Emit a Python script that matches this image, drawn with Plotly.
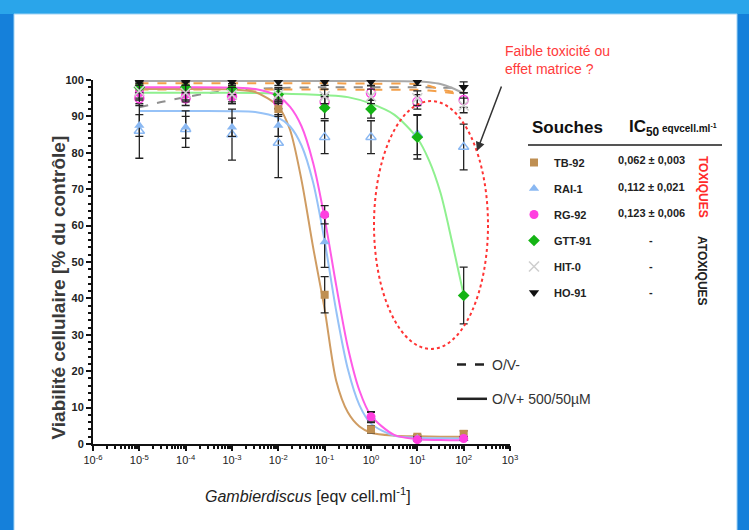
import plotly.graph_objects as go

W, H = 749, 530

# ---------------- data ----------------
conc = [1e-5, 1e-4, 1e-3, 1e-2, 1e-1, 1e0, 1e1, 1e2]
strains = ["TB-92", "RAI-1", "RG-92", "GTT-91", "HIT-0", "HO-91"]
ic50_text = ["0,062 ± 0,003", "0,112 ± 0,021", "0,123 ± 0,006", "-", "-", "-"]
x_tick_vals = [1e-6, 1e-5, 1e-4, 1e-3, 1e-2, 1e-1, 1e0, 1e1, 1e2, 1e3]
x_tick_text = ["10<sup>-6</sup>", "10<sup>-5</sup>", "10<sup>-4</sup>", "10<sup>-3</sup>", "10<sup>-2</sup>",
               "10<sup>-1</sup>", "10<sup>0</sup>", "10<sup>1</sup>", "10<sup>2</sup>", "10<sup>3</sup>"]

# O/V+ means and errors
tb92_y = [98, 98, 97.5, 92, 41, 4, 2, 2.8]
tb92_err = [1.5, 1.5, 1.5, 2, 5, 1, 0.5, 0.8]
rai1_y = [87.5, 87, 87, 87.5, 55.5, 7.4, 1.5, 1.5]
rai1_err = [3, 3, 2.5, 3, 7, 1.5, 0.5, 0.5]
rg92_y = [96.5, 96, 95.5, 95.5, 63, 7.5, 1.2, 1.5]
rg92_err = [2, 2, 2, 2, 2.5, 1.2, 0.4, 0.5]
gtt91_y = [98, 98, 97.5, 96, 92.4, 92, 84.3, 40.8]
gtt91_err = [1.5, 1.5, 1.5, 1.5, 3, 2.5, 6, 7.8]
hit0_y = [97, 96.5, 96, 96, 95.5, 95.5, 95, 93]
hit0_err = [2, 2, 2, 2, 2, 2, 2, 2]
ho91_y = [99.5, 99.5, 99.5, 99.5, 99.5, 99.5, 99.5, 98]
ho91_err = [1, 1, 1, 1, 1, 1, 1, 1.5]

# O/V- means and errors (open markers)
rai1_neg_y = [86, 86.5, 85, 82.7, 84.3, 84.3, 85, 81.6]
rai1_neg_err = [7.5, 5, 7, 9.5, 4.5, 4.5, 5.5, 6.3]
rg92_neg_y = [95, 95, 95.5, 94, 94, 96.4, 94, 94.5]
rg92_neg_err = [2, 2, 2, 2, 2, 2, 2, 2]

# fitted curves (x as log10 exponents)
curve_exp = [-5, -4, -3, -2.5, -2, -1.75, -1.5, -1.25, -1, -0.75, -0.5, -0.25, 0, 0.5, 1, 1.5, 2]
tb92_curve = [97.5, 97.5, 97.4, 96.7, 92.7, 86.4, 72.5, 54.1, 37, 17.3, 8.7, 4.8, 3.1, 2.3, 2.1, 2.0, 2.0]
rai1_curve = [91.5, 91.5, 91.4, 91.2, 89.6, 87.3, 82.0, 71.9, 55.7, 36.5, 20.6, 10.7, 5.6, 2.3, 1.7, 1.55, 1.5]
rg92_curve = [98, 98, 97.9, 97.5, 95.5, 92.7, 87.3, 77.3, 62.0, 43.5, 26.6, 14.7, 7.8, 2.5, 1.3, 1.1, 1.0]
gtt91_curve_exp = [-5, -4, -3, -2, -1, -0.5, 0, 0.5, 1, 1.25, 1.5, 1.75, 2]
gtt91_curve = [96.5, 96.5, 96.5, 96.3, 95.8, 95.3, 93.5, 90.5, 84, 78, 69, 55.5, 41]
ho91_curve_exp = [-5, -3, -1, 0, 1, 1.25, 1.5, 1.75, 2]
ho91_curve = [99.7, 99.7, 99.7, 99.7, 99.6, 99.4, 98.9, 97.8, 96.3]
neg_grey_exp = [-5, -4.5, -4, -3.5, -3, -2, -1, 0, 1, 2]
neg_grey_curve = [92.5, 94, 95.3, 96.4, 97.2, 97.8, 98, 98, 98, 97.8]
neg_orange_exp = [-5, -3, -1, 0, 1, 1.25, 1.5, 1.75, 2]
neg_orange_a = [99.1, 99.1, 99.1, 99.0, 98.9, 98.4, 97.4, 96.8, 96.6]
neg_orange_b = [97.4, 97.4, 97.4, 97.3, 97.3, 97.1, 96.8, 96.4, 96.2]

# ---------------- style ----------------
C_TB, C_TB_LINE = "#bf8f52", "#cf9c62"
C_RAI, C_RAI_LINE = "#8ab8f2", "#96c2f7"
C_RG, C_RG_LINE = "#ff3fe0", "#ff5ae6"
C_GTT, C_GTT_LINE = "#14b414", "#8ff08f"
C_HIT = "#cfcfcf"
C_HO = "#111111"
FONT = "Liberation Sans Narrow, Arial Narrow, Liberation Sans, Arial, sans-serif"


def px(x):
    return x / W


def py(y):
    return 1 - y / H


fig = go.Figure()


def xs(exps):
    return [10 ** e for e in exps]


def curve(exps, vals, color, dash="solid", width=2):
    fig.add_trace(go.Scatter(x=xs(exps), y=vals, mode="lines",
                             line=dict(color=color, width=width, dash=dash, shape="spline", smoothing=0.8),
                             showlegend=False, hoverinfo="skip"))


curve(neg_grey_exp, neg_grey_curve, "#8f8f8f", "dash", 2)
curve(neg_orange_exp, neg_orange_a, "#f3a04a", "dash", 2)
curve(neg_orange_exp, neg_orange_b, "#f3a04a", "dash", 2)
curve(ho91_curve_exp, ho91_curve, "#a8a8a8", "solid", 2)
curve(gtt91_curve_exp, gtt91_curve, C_GTT_LINE, "solid", 2)
curve(curve_exp, tb92_curve, C_TB_LINE, "solid", 2)
curve(curve_exp, rai1_curve, C_RAI_LINE, "solid", 2)
curve(curve_exp, rg92_curve, C_RG_LINE, "solid", 2)


def pts(y, err, name, symbol, color, size=8, legend=False, fill=None, lw=0):
    fig.add_trace(go.Scatter(
        x=conc, y=y, mode="markers", name=name, showlegend=legend, legend="legend",
        legendgroup=name if legend else None,
        marker=dict(symbol=symbol, size=size, color=color if fill is None else fill,
                    line=dict(color=color, width=lw)),
        error_y=dict(type="data", array=err, visible=True, color="#222222", thickness=1.3, width=4),
    ))


pts(rai1_neg_y, rai1_neg_err, "RAI-1 O/V-", "triangle-up-open", C_RAI, 9, lw=1.5)
pts(rg92_neg_y, rg92_neg_err, "RG-92 O/V-", "circle-open", C_RG, 9, lw=1.5)
pts(tb92_y, tb92_err, strains[0], "square", C_TB, 8, True)
pts(rai1_y, rai1_err, strains[1], "triangle-up", C_RAI, 9, True)
pts(rg92_y, rg92_err, strains[2], "circle", C_RG, 9, True)
pts(gtt91_y, gtt91_err, strains[3], "diamond", C_GTT, 9, True)
pts(hit0_y, hit0_err, strains[4], "x-thin-open", C_HIT, 10, True, lw=1.6)
pts(ho91_y, ho91_err, strains[5], "triangle-down", C_HO, 9, True)

fig.add_trace(go.Scatter(x=[None], y=[None], mode="lines", name="O/V-", legend="legend2", legendgroup="a",
                         line=dict(color="#222222", width=2.5, dash="dash")))
fig.add_trace(go.Scatter(x=[None], y=[None], mode="lines", name="O/V+ 500/50µM", legend="legend2",
                         legendgroup="b", line=dict(color="#222222", width=2.5)))

shapes = [
    dict(type="rect", xref="paper", yref="paper", x0=0, x1=1, y0=py(14), y1=1, fillcolor="#2aa5ea",
         line=dict(width=0), layer="below"),
    dict(type="rect", xref="paper", yref="paper", x0=px(14), x1=px(737), y0=-0.01, y1=py(14), fillcolor="white",
         line=dict(color="#9fd3f5", width=1), layer="below"),
    dict(type="circle", xref="paper", yref="paper", x0=px(374), x1=px(488), y0=py(349), y1=py(101),
         line=dict(color="#ff3434", width=2, dash="dot"), layer="above"),
    dict(type="line", xref="paper", yref="paper", x0=px(528), x1=px(722), y0=py(145), y1=py(145),
         line=dict(color="#555555", width=2)),
]

ann = []
ann.append(dict(x=px(503), y=py(60), xref="paper", yref="paper", xanchor="left", yanchor="middle", align="left",
                text="Faible toxicité ou<br>effet matrice ?", showarrow=False,
                font=dict(family=FONT, size=14, color="#ff3b3b")))
ann.append(dict(x=px(477), y=py(151), xref="paper", yref="paper", text="", showarrow=True, ax=25, ay=-66,
                arrowhead=2, arrowsize=1.2, arrowwidth=1.5, arrowcolor="#333333"))
ann.append(dict(x=px(530), y=py(128), xref="paper", yref="paper", xanchor="left", yanchor="middle",
                text="<b>Souches</b>", showarrow=False, font=dict(family=FONT, size=17, color="#111111")))
ann.append(dict(x=px(627), y=py(128), xref="paper", yref="paper", xanchor="left", yanchor="middle",
                text="<b>IC<sub>50</sub></b><b><span style='font-size:10px'> eqvcell.ml<sup>-1</sup></span></b>",
                showarrow=False, font=dict(family=FONT, size=17, color="#111111")))
row_y = [160, 187, 213, 240, 266, 292]
for t, ry in zip(ic50_text, row_y):
    ann.append(dict(x=px(651), y=py(ry), xref="paper", yref="paper", xanchor="center", yanchor="middle",
                    text="<b>%s</b>" % t, showarrow=False, font=dict(family=FONT, size=11, color="#222222")))
ann.append(dict(x=px(712), y=py(187), xref="paper", yref="paper", text="<b>TOXIQUES</b>", textangle=90,
                showarrow=False, font=dict(family=FONT, size=12, color="#ff2a2a")))
ann.append(dict(x=px(711), y=py(271), xref="paper", yref="paper", text="<b>ATOXIQUES</b>", textangle=90,
                showarrow=False, font=dict(family=FONT, size=12, color="#222222")))
ann.append(dict(x=px(45), y=py(288), xref="paper", yref="paper", text="<b>Viabilité cellulaire [% du contrôle]</b>",
                textangle=-90, showarrow=False,
                font=dict(family="Liberation Sans, Arial, sans-serif", size=19, color="#3a3a3a")))
ann.append(dict(x=px(308), y=py(507), xref="paper", yref="paper",
                text="<i>Gambierdiscus</i> [eqv cell.ml<sup>-1</sup>]", showarrow=False,
                font=dict(family=FONT, size=16, color="#222222")))

fig.update_layout(
    width=W, height=H,
    margin=dict(l=0, r=0, t=0, b=0, autoexpand=False),
    paper_bgcolor="#1580da",
    plot_bgcolor="white",
    shapes=shapes,
    annotations=ann,
    showlegend=True,
    legend=dict(x=px(514), y=py(148), xanchor="left", yanchor="top", bgcolor="rgba(0,0,0,0)",
                font=dict(family=FONT, size=11, color="#222222", weight="bold"), tracegroupgap=7,
                itemclick=False, itemdoubleclick=False),
    legend2=dict(x=px(452), y=py(349), xanchor="left", yanchor="top", bgcolor="rgba(0,0,0,0)",
                 font=dict(family=FONT, size=14, color="#333333"), tracegroupgap=13,
                 itemclick=False, itemdoubleclick=False),
    xaxis=dict(type="log", range=[-6, 3], domain=[px(93), px(510)], showgrid=False, zeroline=False,
               automargin=False,
               showline=True, linecolor="#111111", linewidth=2, ticks="outside", ticklen=5, tickwidth=1.5,
               tickcolor="#111111", tickvals=x_tick_vals, ticktext=x_tick_text,
               tickfont=dict(family=FONT, size=11, color="#222222"),
               minor=dict(ticks="outside", ticklen=3, tickcolor="#111111", dtick="D1", showgrid=False)),
    yaxis=dict(range=[0, 100], domain=[py(444), py(80)], showgrid=False, zeroline=False, showline=True,
               automargin=False,
               linecolor="#111111", linewidth=2, ticks="outside", ticklen=5, tickwidth=1.5, tickcolor="#111111",
               dtick=10, tickfont=dict(family=FONT, size=11, color="#222222", weight="bold"),
               minor=dict(ticks="outside", ticklen=3, tickcolor="#111111", dtick=2, showgrid=False)),
)

fig.write_html("out.html", config={"displayModeBar": False},
               post_script="document.body.style.margin='0';document.body.style.overflow='hidden';")
